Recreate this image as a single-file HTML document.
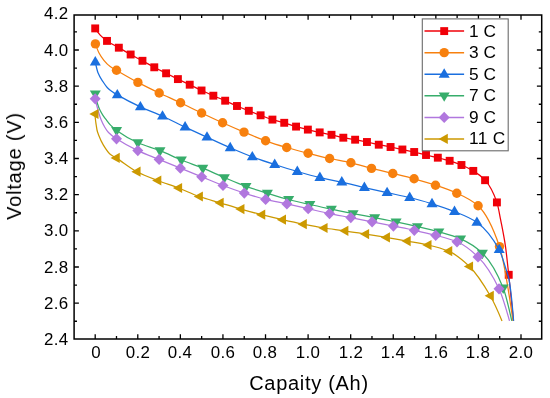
<!DOCTYPE html><html lang="en"><head><meta charset="utf-8"><title>Discharge curves</title><style>
html,body{margin:0;padding:0;background:#fff}
body{width:550px;height:398px;position:relative;overflow:hidden;font-family:"Liberation Sans",sans-serif;color:#000}
.t{position:absolute;white-space:nowrap;line-height:1;will-change:transform}
.xt{font-size:16.9px;letter-spacing:.35px;transform:translate(-50%,0);top:344.8px}
.yt{font-size:16.9px;letter-spacing:.35px;text-align:right;right:481.35px;transform:translate(0,-50%)}
.lg{font-size:17.3px;left:469.2px;transform:translate(0,-50%)}
.xl{font-size:20px;letter-spacing:.7px;left:308.5px;top:373px;transform:translate(-50%,0)}
.yl{font-size:20px;letter-spacing:.8px;left:13.8px;top:166.2px;transform:translate(-50%,-50%) rotate(-90deg)}
</style></head><body>
<svg width="550" height="398" viewBox="0 0 550 398" style="position:absolute;left:0;top:0">
<rect x="0" y="0" width="550" height="398" fill="#fff"/>
<path d="M95.20 28.40C96.87 30.98 98.53 33.34 100.20 35.10C102.47 37.49 104.74 39.31 107.02 40.90C110.95 43.65 114.89 45.43 118.83 47.70C122.77 49.97 126.71 52.32 130.65 54.50C134.58 56.68 138.52 58.67 142.46 60.80C146.40 62.93 150.34 65.22 154.28 67.30C158.21 69.38 162.15 71.33 166.09 73.30C170.03 75.27 173.97 77.20 177.91 79.10C181.84 81.00 185.78 82.80 189.72 84.70C193.66 86.60 197.60 88.67 201.53 90.50C205.47 92.33 209.41 94.00 213.35 95.70C217.29 97.40 221.23 98.98 225.17 100.70C229.10 102.42 233.04 104.32 236.98 106.00C240.92 107.68 244.86 109.25 248.80 110.80C252.73 112.35 256.67 113.83 260.61 115.30C264.55 116.77 268.49 118.38 272.43 119.60C276.36 120.82 280.30 121.64 284.24 122.80C288.18 123.96 292.12 125.48 296.06 126.60C299.99 127.72 303.93 128.63 307.87 129.60C311.81 130.57 315.75 131.54 319.69 132.40C323.62 133.26 327.56 133.92 331.50 134.80C335.44 135.68 339.38 136.91 343.31 137.70C347.25 138.49 351.19 138.99 355.13 139.70C359.07 140.41 363.01 141.17 366.94 142.00C370.88 142.83 374.82 143.87 378.76 144.70C382.70 145.53 386.64 146.20 390.57 147.00C394.51 147.80 398.45 148.67 402.39 149.50C406.33 150.33 410.27 151.09 414.20 152.00C418.14 152.91 422.08 154.05 426.02 155.00C429.96 155.95 433.90 156.74 437.83 157.70C441.77 158.66 445.71 159.61 449.65 160.80C453.59 161.99 457.53 163.36 461.46 165.00C465.40 166.64 469.34 168.49 473.28 170.90C477.22 173.31 481.16 175.83 485.09 180.20C489.03 184.57 492.97 190.99 496.91 202.40C498.17 206.06 499.44 213.82 500.70 220.20C502.30 228.28 503.90 235.63 505.50 246.60C506.57 253.97 507.65 264.97 508.72 274.80C510.32 289.36 511.91 304.67 513.50 320.90" fill="none" stroke="#F00008" stroke-width="1.25" stroke-linejoin="round"/>
<g><rect x="91.25" y="24.45" width="7.90" height="7.90" fill="#F00008"/><rect x="103.06" y="36.95" width="7.90" height="7.90" fill="#F00008"/><rect x="114.88" y="43.75" width="7.90" height="7.90" fill="#F00008"/><rect x="126.70" y="50.55" width="7.90" height="7.90" fill="#F00008"/><rect x="138.51" y="56.85" width="7.90" height="7.90" fill="#F00008"/><rect x="150.33" y="63.35" width="7.90" height="7.90" fill="#F00008"/><rect x="162.14" y="69.35" width="7.90" height="7.90" fill="#F00008"/><rect x="173.96" y="75.15" width="7.90" height="7.90" fill="#F00008"/><rect x="185.77" y="80.75" width="7.90" height="7.90" fill="#F00008"/><rect x="197.59" y="86.55" width="7.90" height="7.90" fill="#F00008"/><rect x="209.40" y="91.75" width="7.90" height="7.90" fill="#F00008"/><rect x="221.22" y="96.75" width="7.90" height="7.90" fill="#F00008"/><rect x="233.03" y="102.05" width="7.90" height="7.90" fill="#F00008"/><rect x="244.85" y="106.85" width="7.90" height="7.90" fill="#F00008"/><rect x="256.66" y="111.35" width="7.90" height="7.90" fill="#F00008"/><rect x="268.48" y="115.65" width="7.90" height="7.90" fill="#F00008"/><rect x="280.29" y="118.85" width="7.90" height="7.90" fill="#F00008"/><rect x="292.11" y="122.65" width="7.90" height="7.90" fill="#F00008"/><rect x="303.92" y="125.65" width="7.90" height="7.90" fill="#F00008"/><rect x="315.74" y="128.45" width="7.90" height="7.90" fill="#F00008"/><rect x="327.55" y="130.85" width="7.90" height="7.90" fill="#F00008"/><rect x="339.37" y="133.75" width="7.90" height="7.90" fill="#F00008"/><rect x="351.18" y="135.75" width="7.90" height="7.90" fill="#F00008"/><rect x="363.00" y="138.05" width="7.90" height="7.90" fill="#F00008"/><rect x="374.81" y="140.75" width="7.90" height="7.90" fill="#F00008"/><rect x="386.62" y="143.05" width="7.90" height="7.90" fill="#F00008"/><rect x="398.44" y="145.55" width="7.90" height="7.90" fill="#F00008"/><rect x="410.25" y="148.05" width="7.90" height="7.90" fill="#F00008"/><rect x="422.07" y="151.05" width="7.90" height="7.90" fill="#F00008"/><rect x="433.88" y="153.75" width="7.90" height="7.90" fill="#F00008"/><rect x="445.70" y="156.85" width="7.90" height="7.90" fill="#F00008"/><rect x="457.51" y="161.05" width="7.90" height="7.90" fill="#F00008"/><rect x="469.33" y="166.95" width="7.90" height="7.90" fill="#F00008"/><rect x="481.14" y="176.25" width="7.90" height="7.90" fill="#F00008"/><rect x="492.96" y="198.45" width="7.90" height="7.90" fill="#F00008"/><rect x="504.77" y="270.85" width="7.90" height="7.90" fill="#F00008"/></g>
<path d="M95.40 43.90C96.57 47.31 97.73 50.46 98.90 52.70C100.57 55.90 102.23 58.27 103.90 60.30C106.00 62.85 108.10 65.05 110.20 66.60C112.30 68.15 114.40 69.09 116.50 70.30C123.63 74.42 130.77 78.62 137.90 82.40C145.00 86.16 152.10 89.61 159.20 93.00C166.33 96.40 173.47 99.44 180.60 102.80C187.60 106.10 194.60 109.67 201.60 113.00C208.60 116.33 215.60 119.65 222.60 122.80C229.73 126.01 236.87 129.12 244.00 132.10C251.20 135.11 258.40 138.24 265.60 140.80C272.63 143.30 279.67 145.44 286.70 147.50C293.83 149.59 300.97 151.48 308.10 153.30C315.27 155.13 322.43 156.92 329.60 158.50C336.70 160.06 343.80 161.15 350.90 162.80C357.77 164.39 364.63 166.65 371.50 168.40C378.60 170.21 385.70 171.77 392.80 173.50C399.90 175.23 407.00 176.87 414.10 178.80C421.23 180.74 428.37 182.82 435.50 185.20C442.60 187.56 449.70 189.94 456.80 193.20C463.90 196.46 471.00 199.39 478.10 205.80C485.23 212.24 492.37 225.63 499.50 246.60C504.00 259.83 508.50 289.87 513.00 320.90" fill="none" stroke="#F7800E" stroke-width="1.25" stroke-linejoin="round"/>
<g><circle cx="95.40" cy="43.90" r="4.7" fill="#F7800E"/><circle cx="116.50" cy="70.30" r="4.7" fill="#F7800E"/><circle cx="137.90" cy="82.40" r="4.7" fill="#F7800E"/><circle cx="159.20" cy="93.00" r="4.7" fill="#F7800E"/><circle cx="180.60" cy="102.80" r="4.7" fill="#F7800E"/><circle cx="201.60" cy="113.00" r="4.7" fill="#F7800E"/><circle cx="222.60" cy="122.80" r="4.7" fill="#F7800E"/><circle cx="244.00" cy="132.10" r="4.7" fill="#F7800E"/><circle cx="265.60" cy="140.80" r="4.7" fill="#F7800E"/><circle cx="286.70" cy="147.50" r="4.7" fill="#F7800E"/><circle cx="308.10" cy="153.30" r="4.7" fill="#F7800E"/><circle cx="329.60" cy="158.50" r="4.7" fill="#F7800E"/><circle cx="350.90" cy="162.80" r="4.7" fill="#F7800E"/><circle cx="371.50" cy="168.40" r="4.7" fill="#F7800E"/><circle cx="392.80" cy="173.50" r="4.7" fill="#F7800E"/><circle cx="414.10" cy="178.80" r="4.7" fill="#F7800E"/><circle cx="435.50" cy="185.20" r="4.7" fill="#F7800E"/><circle cx="456.80" cy="193.20" r="4.7" fill="#F7800E"/><circle cx="478.10" cy="205.80" r="4.7" fill="#F7800E"/><circle cx="499.50" cy="246.60" r="4.7" fill="#F7800E"/></g>
<path d="M95.30 62.00C96.20 66.29 97.10 70.50 98.00 72.80C99.73 77.23 101.47 79.35 103.20 82.00C104.60 84.14 106.00 86.26 107.40 87.70C108.93 89.28 110.47 90.39 112.00 91.50C113.77 92.78 115.53 93.86 117.30 94.90C125.00 99.42 132.70 103.32 140.40 106.90C147.77 110.32 155.13 112.89 162.50 116.20C170.03 119.59 177.57 123.55 185.10 127.10C192.40 130.54 199.70 133.85 207.00 137.20C214.73 140.75 222.47 144.45 230.20 147.80C237.57 150.99 244.93 154.16 252.30 156.90C259.77 159.68 267.23 162.08 274.70 164.50C282.23 166.94 289.77 169.33 297.30 171.50C304.83 173.67 312.37 175.84 319.90 177.60C327.20 179.30 334.50 180.47 341.80 182.10C349.33 183.78 356.87 185.84 364.40 187.60C371.97 189.37 379.53 191.05 387.10 192.70C394.63 194.34 402.17 195.67 409.70 197.50C417.13 199.30 424.57 201.49 432.00 203.80C439.50 206.13 447.00 208.57 454.50 211.60C461.97 214.61 469.43 217.23 476.90 222.40C484.33 227.54 491.77 235.98 499.20 249.70C501.63 254.19 504.07 263.12 506.50 270.80C507.30 273.32 508.10 275.16 508.90 278.90C510.47 286.22 512.03 301.13 513.60 320.90" fill="none" stroke="#1A6FDF" stroke-width="1.25" stroke-linejoin="round"/>
<g><path d="M95.30 56.00L100.80 65.40L89.80 65.40Z" fill="#1A6FDF"/><path d="M117.30 88.90L122.80 98.30L111.80 98.30Z" fill="#1A6FDF"/><path d="M140.40 100.90L145.90 110.30L134.90 110.30Z" fill="#1A6FDF"/><path d="M162.50 110.20L168.00 119.60L157.00 119.60Z" fill="#1A6FDF"/><path d="M185.10 121.10L190.60 130.50L179.60 130.50Z" fill="#1A6FDF"/><path d="M207.00 131.20L212.50 140.60L201.50 140.60Z" fill="#1A6FDF"/><path d="M230.20 141.80L235.70 151.20L224.70 151.20Z" fill="#1A6FDF"/><path d="M252.30 150.90L257.80 160.30L246.80 160.30Z" fill="#1A6FDF"/><path d="M274.70 158.50L280.20 167.90L269.20 167.90Z" fill="#1A6FDF"/><path d="M297.30 165.50L302.80 174.90L291.80 174.90Z" fill="#1A6FDF"/><path d="M319.90 171.60L325.40 181.00L314.40 181.00Z" fill="#1A6FDF"/><path d="M341.80 176.10L347.30 185.50L336.30 185.50Z" fill="#1A6FDF"/><path d="M364.40 181.60L369.90 191.00L358.90 191.00Z" fill="#1A6FDF"/><path d="M387.10 186.70L392.60 196.10L381.60 196.10Z" fill="#1A6FDF"/><path d="M409.70 191.50L415.20 200.90L404.20 200.90Z" fill="#1A6FDF"/><path d="M432.00 197.80L437.50 207.20L426.50 207.20Z" fill="#1A6FDF"/><path d="M454.50 205.60L460.00 215.00L449.00 215.00Z" fill="#1A6FDF"/><path d="M476.90 216.40L482.40 225.80L471.40 225.80Z" fill="#1A6FDF"/><path d="M499.20 243.70L504.70 253.10L493.70 253.10Z" fill="#1A6FDF"/></g>
<path d="M95.30 93.80C96.03 97.83 96.77 101.36 97.50 103.80C98.27 106.35 99.03 108.17 99.80 109.80C100.80 111.92 101.80 113.55 102.80 115.10C104.07 117.06 105.33 118.65 106.60 120.30C107.83 121.91 109.07 123.62 110.30 124.90C112.40 127.09 114.50 128.88 116.60 130.40C123.70 135.52 130.80 139.54 137.90 142.70C145.27 145.98 152.63 147.79 160.00 150.70C167.13 153.52 174.27 157.09 181.40 160.00C188.53 162.91 195.67 165.29 202.80 168.20C210.00 171.13 217.20 174.57 224.40 177.60C231.60 180.63 238.80 183.83 246.00 186.40C253.13 188.95 260.27 191.01 267.40 193.20C274.50 195.38 281.60 197.64 288.70 199.50C295.77 201.35 302.83 202.91 309.90 204.50C317.07 206.11 324.23 207.59 331.40 209.10C338.63 210.62 345.87 212.17 353.10 213.60C360.30 215.03 367.50 216.31 374.70 217.70C381.83 219.08 388.97 220.42 396.10 221.90C403.23 223.38 410.37 224.94 417.50 226.60C424.63 228.26 431.77 229.90 438.90 231.90C446.13 233.93 453.37 235.77 460.60 238.90C467.87 242.04 475.13 246.33 482.40 253.20C489.33 259.75 496.27 270.85 503.20 287.90C506.07 294.95 508.93 308.08 511.80 320.90" fill="none" stroke="#37AD6B" stroke-width="1.25" stroke-linejoin="round"/>
<g><path d="M95.30 99.80L100.80 90.40L89.80 90.40Z" fill="#37AD6B"/><path d="M116.60 136.40L122.10 127.00L111.10 127.00Z" fill="#37AD6B"/><path d="M137.90 148.70L143.40 139.30L132.40 139.30Z" fill="#37AD6B"/><path d="M160.00 156.70L165.50 147.30L154.50 147.30Z" fill="#37AD6B"/><path d="M181.40 166.00L186.90 156.60L175.90 156.60Z" fill="#37AD6B"/><path d="M202.80 174.20L208.30 164.80L197.30 164.80Z" fill="#37AD6B"/><path d="M224.40 183.60L229.90 174.20L218.90 174.20Z" fill="#37AD6B"/><path d="M246.00 192.40L251.50 183.00L240.50 183.00Z" fill="#37AD6B"/><path d="M267.40 199.20L272.90 189.80L261.90 189.80Z" fill="#37AD6B"/><path d="M288.70 205.50L294.20 196.10L283.20 196.10Z" fill="#37AD6B"/><path d="M309.90 210.50L315.40 201.10L304.40 201.10Z" fill="#37AD6B"/><path d="M331.40 215.10L336.90 205.70L325.90 205.70Z" fill="#37AD6B"/><path d="M353.10 219.60L358.60 210.20L347.60 210.20Z" fill="#37AD6B"/><path d="M374.70 223.70L380.20 214.30L369.20 214.30Z" fill="#37AD6B"/><path d="M396.10 227.90L401.60 218.50L390.60 218.50Z" fill="#37AD6B"/><path d="M417.50 232.60L423.00 223.20L412.00 223.20Z" fill="#37AD6B"/><path d="M438.90 237.90L444.40 228.50L433.40 228.50Z" fill="#37AD6B"/><path d="M460.60 244.90L466.10 235.50L455.10 235.50Z" fill="#37AD6B"/><path d="M482.40 259.20L487.90 249.80L476.90 249.80Z" fill="#37AD6B"/><path d="M503.20 293.90L508.70 284.50L497.70 284.50Z" fill="#37AD6B"/></g>
<path d="M95.20 98.80C96.33 103.88 97.47 108.37 98.60 112.20C99.43 115.02 100.27 117.66 101.10 119.70C102.33 122.72 103.57 125.13 104.80 127.20C106.03 129.27 107.27 131.20 108.50 132.50C111.17 135.31 113.83 137.02 116.50 138.80C123.60 143.54 130.70 147.24 137.80 150.60C144.90 153.96 152.00 156.47 159.10 159.40C166.20 162.33 173.30 165.30 180.40 168.20C187.50 171.10 194.60 173.92 201.70 176.80C208.80 179.68 215.90 182.80 223.00 185.50C230.10 188.20 237.20 190.80 244.30 193.10C251.40 195.40 258.50 197.65 265.60 199.40C272.70 201.15 279.80 202.35 286.90 203.90C294.00 205.45 301.10 207.08 308.20 208.70C315.30 210.32 322.40 212.13 329.50 213.60C336.60 215.07 343.70 216.23 350.80 217.60C357.90 218.97 365.00 220.38 372.10 221.80C379.20 223.22 386.30 224.67 393.40 226.10C400.37 227.50 407.33 228.80 414.30 230.30C421.43 231.84 428.57 233.41 435.70 235.30C442.80 237.18 449.90 238.75 457.00 241.80C464.00 244.80 471.00 250.07 478.00 256.90C485.00 263.73 492.00 274.04 499.00 288.80C502.50 296.18 506.00 308.41 509.50 320.90" fill="none" stroke="#B177DE" stroke-width="1.25" stroke-linejoin="round"/>
<g><path d="M95.20 93.20L100.70 98.80L95.20 104.40L89.70 98.80Z" fill="#B177DE"/><path d="M116.50 133.20L122.00 138.80L116.50 144.40L111.00 138.80Z" fill="#B177DE"/><path d="M137.80 145.00L143.30 150.60L137.80 156.20L132.30 150.60Z" fill="#B177DE"/><path d="M159.10 153.80L164.60 159.40L159.10 165.00L153.60 159.40Z" fill="#B177DE"/><path d="M180.40 162.60L185.90 168.20L180.40 173.80L174.90 168.20Z" fill="#B177DE"/><path d="M201.70 171.20L207.20 176.80L201.70 182.40L196.20 176.80Z" fill="#B177DE"/><path d="M223.00 179.90L228.50 185.50L223.00 191.10L217.50 185.50Z" fill="#B177DE"/><path d="M244.30 187.50L249.80 193.10L244.30 198.70L238.80 193.10Z" fill="#B177DE"/><path d="M265.60 193.80L271.10 199.40L265.60 205.00L260.10 199.40Z" fill="#B177DE"/><path d="M286.90 198.30L292.40 203.90L286.90 209.50L281.40 203.90Z" fill="#B177DE"/><path d="M308.20 203.10L313.70 208.70L308.20 214.30L302.70 208.70Z" fill="#B177DE"/><path d="M329.50 208.00L335.00 213.60L329.50 219.20L324.00 213.60Z" fill="#B177DE"/><path d="M350.80 212.00L356.30 217.60L350.80 223.20L345.30 217.60Z" fill="#B177DE"/><path d="M372.10 216.20L377.60 221.80L372.10 227.40L366.60 221.80Z" fill="#B177DE"/><path d="M393.40 220.50L398.90 226.10L393.40 231.70L387.90 226.10Z" fill="#B177DE"/><path d="M414.30 224.70L419.80 230.30L414.30 235.90L408.80 230.30Z" fill="#B177DE"/><path d="M435.70 229.70L441.20 235.30L435.70 240.90L430.20 235.30Z" fill="#B177DE"/><path d="M457.00 236.20L462.50 241.80L457.00 247.40L451.50 241.80Z" fill="#B177DE"/><path d="M478.00 251.30L483.50 256.90L478.00 262.50L472.50 256.90Z" fill="#B177DE"/><path d="M499.00 283.20L504.50 288.80L499.00 294.40L493.50 288.80Z" fill="#B177DE"/></g>
<path d="M94.90 114.00C95.10 116.26 95.30 118.33 95.50 120.00C95.73 121.95 95.97 123.44 96.20 125.00C96.47 126.78 96.73 128.85 97.00 130.00C97.53 132.31 98.07 133.61 98.60 135.00C100.20 139.16 101.80 142.46 103.40 145.10C105.77 149.00 108.13 152.58 110.50 154.50C112.39 156.04 114.29 156.72 116.18 157.90C123.11 162.22 130.03 168.12 136.96 171.70C143.89 175.28 150.81 177.80 157.74 180.50C164.67 183.20 171.59 185.34 178.52 188.00C185.45 190.66 192.37 194.09 199.30 196.50C206.23 198.91 213.15 200.70 220.08 202.80C227.01 204.90 233.93 207.12 240.86 209.10C247.79 211.08 254.71 212.94 261.64 214.70C268.57 216.46 275.49 218.12 282.42 219.70C289.35 221.28 296.27 222.83 303.20 224.20C310.13 225.57 317.05 226.93 323.98 228.00C330.91 229.07 337.83 229.79 344.76 230.80C351.69 231.81 358.61 233.00 365.54 234.10C372.47 235.20 379.39 236.24 386.32 237.40C393.25 238.56 400.17 239.83 407.10 241.10C414.03 242.37 420.95 243.40 427.88 245.00C434.81 246.60 441.73 248.26 448.66 251.20C455.59 254.14 462.51 259.80 469.44 266.50C476.37 273.20 483.29 283.82 490.22 295.80C494.15 302.59 498.07 311.51 502.00 320.90" fill="none" stroke="#CC9900" stroke-width="1.25" stroke-linejoin="round"/>
<g><path d="M89.30 114.00L98.50 108.90L98.50 119.10Z" fill="#CC9900"/><path d="M110.58 157.90L119.78 152.80L119.78 163.00Z" fill="#CC9900"/><path d="M131.36 171.70L140.56 166.60L140.56 176.80Z" fill="#CC9900"/><path d="M152.14 180.50L161.34 175.40L161.34 185.60Z" fill="#CC9900"/><path d="M172.92 188.00L182.12 182.90L182.12 193.10Z" fill="#CC9900"/><path d="M193.70 196.50L202.90 191.40L202.90 201.60Z" fill="#CC9900"/><path d="M214.48 202.80L223.68 197.70L223.68 207.90Z" fill="#CC9900"/><path d="M235.26 209.10L244.46 204.00L244.46 214.20Z" fill="#CC9900"/><path d="M256.04 214.70L265.24 209.60L265.24 219.80Z" fill="#CC9900"/><path d="M276.82 219.70L286.02 214.60L286.02 224.80Z" fill="#CC9900"/><path d="M297.60 224.20L306.80 219.10L306.80 229.30Z" fill="#CC9900"/><path d="M318.38 228.00L327.58 222.90L327.58 233.10Z" fill="#CC9900"/><path d="M339.16 230.80L348.36 225.70L348.36 235.90Z" fill="#CC9900"/><path d="M359.94 234.10L369.14 229.00L369.14 239.20Z" fill="#CC9900"/><path d="M380.72 237.40L389.92 232.30L389.92 242.50Z" fill="#CC9900"/><path d="M401.50 241.10L410.70 236.00L410.70 246.20Z" fill="#CC9900"/><path d="M422.28 245.00L431.48 239.90L431.48 250.10Z" fill="#CC9900"/><path d="M443.06 251.20L452.26 246.10L452.26 256.30Z" fill="#CC9900"/><path d="M463.84 266.50L473.04 261.40L473.04 271.60Z" fill="#CC9900"/><path d="M484.62 295.80L493.82 290.70L493.82 300.90Z" fill="#CC9900"/></g>
<path d="M95.20 339.00V334.20M95.20 15.00V19.80M116.49 339.00V336.10M116.49 15.00V17.90M137.78 339.00V334.20M137.78 15.00V19.80M159.07 339.00V336.10M159.07 15.00V17.90M180.36 339.00V334.20M180.36 15.00V19.80M201.65 339.00V336.10M201.65 15.00V17.90M222.94 339.00V334.20M222.94 15.00V19.80M244.23 339.00V336.10M244.23 15.00V17.90M265.52 339.00V334.20M265.52 15.00V19.80M286.81 339.00V336.10M286.81 15.00V17.90M308.10 339.00V334.20M308.10 15.00V19.80M329.39 339.00V336.10M329.39 15.00V17.90M350.68 339.00V334.20M350.68 15.00V19.80M371.97 339.00V336.10M371.97 15.00V17.90M393.26 339.00V334.20M393.26 15.00V19.80M414.55 339.00V336.10M414.55 15.00V17.90M435.84 339.00V334.20M435.84 15.00V19.80M457.13 339.00V336.10M457.13 15.00V17.90M478.42 339.00V334.20M478.42 15.00V19.80M499.71 339.00V336.10M499.71 15.00V17.90M521.00 339.00V334.20M521.00 15.00V19.80M74.10 321.27H77.00M541.70 321.27H538.80M74.10 303.19H78.90M541.70 303.19H536.90M74.10 285.10H77.00M541.70 285.10H538.80M74.10 267.02H78.90M541.70 267.02H536.90M74.10 248.94H77.00M541.70 248.94H538.80M74.10 230.85H78.90M541.70 230.85H536.90M74.10 212.76H77.00M541.70 212.76H538.80M74.10 194.68H78.90M541.70 194.68H536.90M74.10 176.60H77.00M541.70 176.60H538.80M74.10 158.51H78.90M541.70 158.51H536.90M74.10 140.43H77.00M541.70 140.43H538.80M74.10 122.34H78.90M541.70 122.34H536.90M74.10 104.25H77.00M541.70 104.25H538.80M74.10 86.17H78.90M541.70 86.17H536.90M74.10 68.08H77.00M541.70 68.08H538.80M74.10 50.00H78.90M541.70 50.00H536.90M74.10 31.92H77.00M541.70 31.92H538.80" stroke="#000" stroke-width="1.3" fill="none"/>
<rect x="74.10" y="15.00" width="467.60" height="324.00" fill="none" stroke="#000" stroke-width="1.5"/>
<rect x="422.30" y="18.90" width="85.90" height="131.90" fill="#fff" stroke="#6a6a6a" stroke-width="1.1"/>
<path d="M424.5 31.10H464.1" stroke="#F00008" stroke-width="1.5"/>
<rect x="440.25" y="27.15" width="7.90" height="7.90" fill="#F00008"/>
<path d="M424.5 52.67H464.1" stroke="#F7800E" stroke-width="1.5"/>
<circle cx="444.20" cy="52.67" r="4.7" fill="#F7800E"/>
<path d="M424.5 74.24H464.1" stroke="#1A6FDF" stroke-width="1.5"/>
<path d="M444.20 68.24L449.70 77.64L438.70 77.64Z" fill="#1A6FDF"/>
<path d="M424.5 95.81H464.1" stroke="#37AD6B" stroke-width="1.5"/>
<path d="M444.20 101.81L449.70 92.41L438.70 92.41Z" fill="#37AD6B"/>
<path d="M424.5 117.38H464.1" stroke="#B177DE" stroke-width="1.5"/>
<path d="M444.20 111.78L449.70 117.38L444.20 122.98L438.70 117.38Z" fill="#B177DE"/>
<path d="M424.5 138.95H464.1" stroke="#CC9900" stroke-width="1.5"/>
<path d="M438.60 138.95L447.80 133.85L447.80 144.05Z" fill="#CC9900"/>
</svg>
<div class="t xt" style="left:95.7px">0</div>
<div class="t xt" style="left:137.7px">0.2</div>
<div class="t xt" style="left:180.3px">0.4</div>
<div class="t xt" style="left:222.8px">0.6</div>
<div class="t xt" style="left:265.4px">0.8</div>
<div class="t xt" style="left:308.0px">1.0</div>
<div class="t xt" style="left:350.6px">1.2</div>
<div class="t xt" style="left:393.2px">1.4</div>
<div class="t xt" style="left:435.7px">1.6</div>
<div class="t xt" style="left:478.3px">1.8</div>
<div class="t xt" style="left:520.9px">2.0</div>
<div class="t yt" style="top:339.9px">2.4</div>
<div class="t yt" style="top:303.7px">2.6</div>
<div class="t yt" style="top:267.5px">2.8</div>
<div class="t yt" style="top:231.3px">3.0</div>
<div class="t yt" style="top:195.2px">3.2</div>
<div class="t yt" style="top:159.0px">3.4</div>
<div class="t yt" style="top:122.8px">3.6</div>
<div class="t yt" style="top:86.7px">3.8</div>
<div class="t yt" style="top:50.5px">4.0</div>
<div class="t yt" style="top:14.3px">4.2</div>
<div class="t lg" style="top:31.9px">1 C</div>
<div class="t lg" style="top:53.4px">3 C</div>
<div class="t lg" style="top:74.9px">5 C</div>
<div class="t lg" style="top:96.4px">7 C</div>
<div class="t lg" style="top:117.9px">9 C</div>
<div class="t lg" style="top:139.4px;letter-spacing:.35px">11 C</div>
<div class="t xl">Capaity (Ah)</div>
<div class="t yl">Voltage (V)</div>
</body></html>
